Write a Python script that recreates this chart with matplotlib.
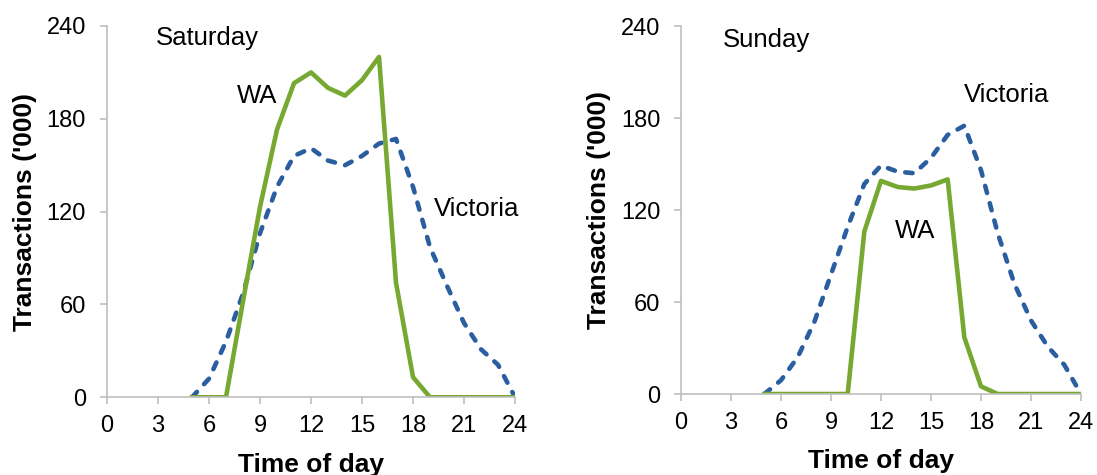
import matplotlib.pyplot as plt

plt.rcParams['font.family'] = ['Liberation Sans', 'DejaVu Sans']

hours = list(range(5, 25))

# Saturday
sat_wa = [0, 0, 0, 62, 123, 173, 203, 210, 200, 195, 205, 220, 74, 13, 0, 0, 0, 0, 0, 0]
sat_vic = [0, 12, 36, 67, 106, 136, 156, 161, 153, 150, 156, 164, 167, 136, 97, 72, 48, 31, 21, 0]

# Sunday
sun_wa = [0, 0, 0, 0, 0, 0, 106, 139, 135, 134, 136, 140, 37, 5, 0, 0, 0, 0, 0, 0]
sun_vic = [0, 9, 24, 47, 78, 109, 137, 149, 145, 144, 154, 169, 175, 146, 105, 72, 48, 31, 19, 0]

xticks = [0, 3, 6, 9, 12, 15, 18, 21, 24]
yticks = [0, 60, 120, 180, 240]

green = '#77a932'
blue = '#2a5ea0'
grey = '#bfbfbf'

fig = plt.figure(figsize=(10.97, 4.75), dpi=100)
ax1 = fig.add_axes([0.0975, 0.1636, 0.372, 0.7817])
ax2 = fig.add_axes([0.6208, 0.1705, 0.3646, 0.7747])

panels = [
    (ax1, sat_wa, sat_vic, 'Saturday'),
    (ax2, sun_wa, sun_vic, 'Sunday'),
]

for ax, wa, vic, day in panels:
    ax.plot(hours, vic, color=blue, lw=3.3, dashes=(1.6, 2.3), dash_capstyle='round')
    ax.plot(hours, wa, color=green, lw=3.3)
    ax.set_xlim(0, 24)
    ax.set_ylim(0, 240)
    ax.set_xticks(xticks)
    ax.set_yticks(yticks)
    for s in ['top', 'right']:
        ax.spines[s].set_visible(False)
    for s in ['left', 'bottom']:
        ax.spines[s].set_color(grey)
        ax.spines[s].set_linewidth(1.2)
    ax.tick_params(axis='x', colors=grey, labelcolor='black', length=5, width=1.2,
                   pad=8, labelsize=17)
    ax.tick_params(axis='y', colors=grey, labelcolor='black', length=5, width=1.2,
                   pad=10, labelsize=17)
    ax.set_xlabel('Time of day', fontsize=19, fontweight='bold', labelpad=11)
    ax.set_ylabel("Transactions ('000)", fontsize=19, fontweight='bold', labelpad=7)

ax1.text(2.86, 232, 'Saturday', fontsize=18.5, ha='left', va='center')
ax1.text(7.63, 195, 'WA', fontsize=18.5, ha='left', va='center')
ax1.text(19.2, 122, 'Victoria', fontsize=18.5, ha='left', va='center')

ax2.text(2.49, 231, 'Sunday', fontsize=18.5, ha='left', va='center')
ax2.text(17.0, 195, 'Victoria', fontsize=18.5, ha='left', va='center')
ax2.text(12.84, 106, 'WA', fontsize=18.5, ha='left', va='center')

fig.savefig('out.png', dpi=100)
